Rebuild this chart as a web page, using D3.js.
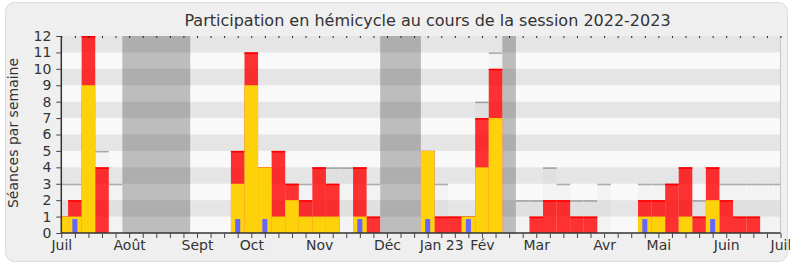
<!DOCTYPE html>
<html>
<head>
<meta charset="utf-8">
<script src="https://cdn.jsdelivr.net/npm/d3@7"></script>
<style>
  body { margin: 0; background: #fff; }
  svg { display: block; font-family: "DejaVu Sans", sans-serif; }
</style>
</head>
<body>
<svg id="chart" width="790" height="267"></svg>
<script>
// Weekly values, week 0 = first week of July 2022
const seances = [3, 3, 12, 5, 3, 0, 0, 0, 0, 0, 0, 0, 0, 5, 11, 4, 5, 3, 3, 4, 4, 4, 4, 3, 0, 0, 0, 5, 3, 1, 1, 8, 11, 0, 2, 2, 4, 3, 2, 2, 3, 0, 0, 3, 3, 3, 4, 2, 4, 3, 3, 3, 3, 3];
const presences = [1, 2, 12, 4, 0, 0, 0, 0, 0, 0, 0, 0, 0, 5, 11, 4, 5, 3, 2, 4, 3, 0, 4, 1, 0, 0, 0, 5, 1, 1, 1, 7, 10, 0, 0, 1, 2, 2, 1, 1, 0, 0, 0, 2, 2, 3, 4, 1, 4, 2, 1, 1, 0, 0];
const participations = [1, 1, 9, 0, 0, 0, 0, 0, 0, 0, 0, 0, 0, 3, 9, 4, 1, 2, 1, 1, 1, 0, 1, 0, 0, 0, 0, 5, 0, 0, 1, 4, 7, 0, 0, 0, 0, 0, 0, 0, 0, 0, 0, 1, 1, 0, 1, 0, 2, 0, 0, 0, 0, 0];
const questions = [0, 1, 0, 0, 0, 0, 0, 0, 0, 0, 0, 0, 0, 1, 0, 1, 0, 0, 0, 0, 0, 0, 1, 0, 0, 0, 0, 1, 0, 0, 1, 0, 0, 0, 0, 0, 0, 0, 0, 0, 0, 0, 0, 1, 0, 0, 0, 0, 1, 0, 0, 0, 0, 0];

// Holidays (first and last week)
const vacances = [[5, 9], [24, 26], [33, 33]];

// Month labels and the week they sit on
const monthLabels = ["Juil", "Août", "Sept", "Oct", "Nov", "Déc", "Jan 23", "Fév", "Mar", "Avr", "Mai", "Juin", "Juil"];
const monthWeeks = [0, 5, 10, 14, 19, 24, 28, 31, 35, 40, 44, 49, 53];

const yTicks = [0, 1, 2, 3, 4, 5, 6, 7, 8, 9, 10, 11, 12];

const nWeeks = seances.length - 1;
const svg = d3.select("#chart");

// Frame
svg.append("rect")
  .attr("x", 5.5).attr("y", 2.5)
  .attr("width", 782).attr("height", 259)
  .attr("rx", 9)
  .attr("fill", "#efefef")
  .attr("stroke", "#dcdcdc");

const x = d3.scaleLinear().domain([0, nWeeks]).range([61.3, 780.5]);
const y = d3.scaleLinear().domain([0, 12]).range([233, 36]);

const weeks = seances.map((v, i) => i);
const x0 = i => x(Math.max(0, i - 0.5));
const x1 = i => x(Math.min(nWeeks, i + 0.5));

const plot = svg.append("g");

// Plot background
plot.append("rect")
  .attr("x", x(0)).attr("y", y(12))
  .attr("width", x(nWeeks) - x(0)).attr("height", y(0) - y(12))
  .attr("fill", "#f9f9f9");

// Number of sittings per week
const sea = plot.selectAll(".seance")
  .data(weeks.filter(i => seances[i] > 0))
  .enter().append("g");
sea.append("rect")
  .attr("x", x0).attr("width", i => x1(i) - x0(i))
  .attr("y", i => y(seances[i])).attr("height", i => y(0) - y(seances[i]))
  .attr("fill", "#f3f3f3");
sea.append("line")
  .attr("x1", x0).attr("x2", x1)
  .attr("y1", i => y(seances[i]) + 0.75).attr("y2", i => y(seances[i]) + 0.75)
  .attr("stroke", "#aaa").attr("stroke-width", 1.5);

// Holidays
plot.selectAll(".vac")
  .data(vacances)
  .enter().append("rect")
  .attr("x", d => x(d[0] - 0.5))
  .attr("width", d => x(d[1] + 0.5) - x(d[0] - 0.5))
  .attr("y", y(12)).attr("height", y(0) - y(12))
  .attr("fill", "#bdbdbd");

// Alternating horizontal bands
plot.selectAll(".band")
  .data(yTicks.slice(1).filter(t => t % 2 === 0))
  .enter().append("rect")
  .attr("x", x(0)).attr("width", x(nWeeks) - x(0))
  .attr("y", t => y(t)).attr("height", t => y(t - 1) - y(t))
  .attr("fill", "rgba(0,0,0,0.08)");

// Presences
const pres = plot.selectAll(".pres")
  .data(weeks.filter(i => presences[i] > 0))
  .enter().append("g");
pres.append("rect")
  .attr("x", x0).attr("width", i => x1(i) - x0(i))
  .attr("y", i => y(presences[i])).attr("height", i => y(0) - y(presences[i]))
  .attr("fill", "#ff0000").attr("fill-opacity", 0.8);
pres.append("line")
  .attr("x1", x0).attr("x2", x1)
  .attr("y1", i => y(presences[i]) + 0.75).attr("y2", i => y(presences[i]) + 0.75)
  .attr("stroke", "#ff0000").attr("stroke-width", 1.5);

// Participations
plot.selectAll(".part")
  .data(weeks.filter(i => participations[i] > 0))
  .enter().append("rect")
  .attr("x", x0).attr("width", i => x1(i) - x0(i))
  .attr("y", i => y(participations[i])).attr("height", i => y(0) - y(participations[i]))
  .attr("fill", "#fdd20a");

// Oral questions
const qw = (x(1) - x(0)) * 0.37;
plot.selectAll(".quest")
  .data(weeks.filter(i => questions[i] > 0))
  .enter().append("rect")
  .attr("x", i => x(i) - qw / 2).attr("width", qw)
  .attr("y", i => y(questions[i] * 0.85)).attr("height", i => y(0) - y(questions[i] * 0.85))
  .attr("fill", "#6666ff");

// Right border of plot
svg.append("line")
  .attr("x1", x(nWeeks)).attr("x2", x(nWeeks))
  .attr("y1", y(12)).attr("y2", y(0))
  .attr("stroke", "#c8c8c8");

// Axes
const labelOf = {};
monthWeeks.forEach((w, k) => labelOf[w] = monthLabels[k]);

const xAxis = svg.append("g")
  .attr("transform", `translate(0,${y(0)})`)
  .call(d3.axisBottom(x).tickValues(weeks).tickSize(5).tickPadding(2)
    .tickFormat(w => labelOf[w] || ""));

const topAxis = svg.append("g")
  .attr("transform", `translate(0,${y(12)})`)
  .call(d3.axisTop(x).tickValues(weeks).tickSize(-2).tickFormat(""));
topAxis.select(".domain").remove();
topAxis.selectAll("line").attr("stroke", "#222");

const yAxis = svg.append("g")
  .attr("transform", `translate(${x(0)},0)`)
  .call(d3.axisLeft(y).tickValues(yTicks).tickSize(5).tickPadding(5));

[xAxis, yAxis].forEach(g => {
  g.select(".domain").attr("stroke", "#333").attr("stroke-width", 1.5);
  g.selectAll(".tick line").attr("stroke", "#444");
  g.selectAll("text")
    .attr("fill", "#333")
    .style("font-size", "14px")
    .style("font-family", "'DejaVu Sans', sans-serif");
});
yAxis.select(".domain").attr("d", `M0,${y(0)}V${y(12)}`);
xAxis.select(".domain").attr("d", `M${x(0)},0H${x(nWeeks)}`);

// Title and y label
svg.append("text")
  .attr("x", 427.5).attr("y", 26)
  .attr("text-anchor", "middle")
  .attr("fill", "#333")
  .style("font-size", "16px")
  .text("Participation en hémicycle au cours de la session 2022-2023");

svg.append("text")
  .attr("transform", "translate(18,133) rotate(-90)")
  .attr("text-anchor", "middle")
  .attr("fill", "#333")
  .style("font-size", "14px")
  .text("Séances par semaine");
</script>
</body>
</html>
